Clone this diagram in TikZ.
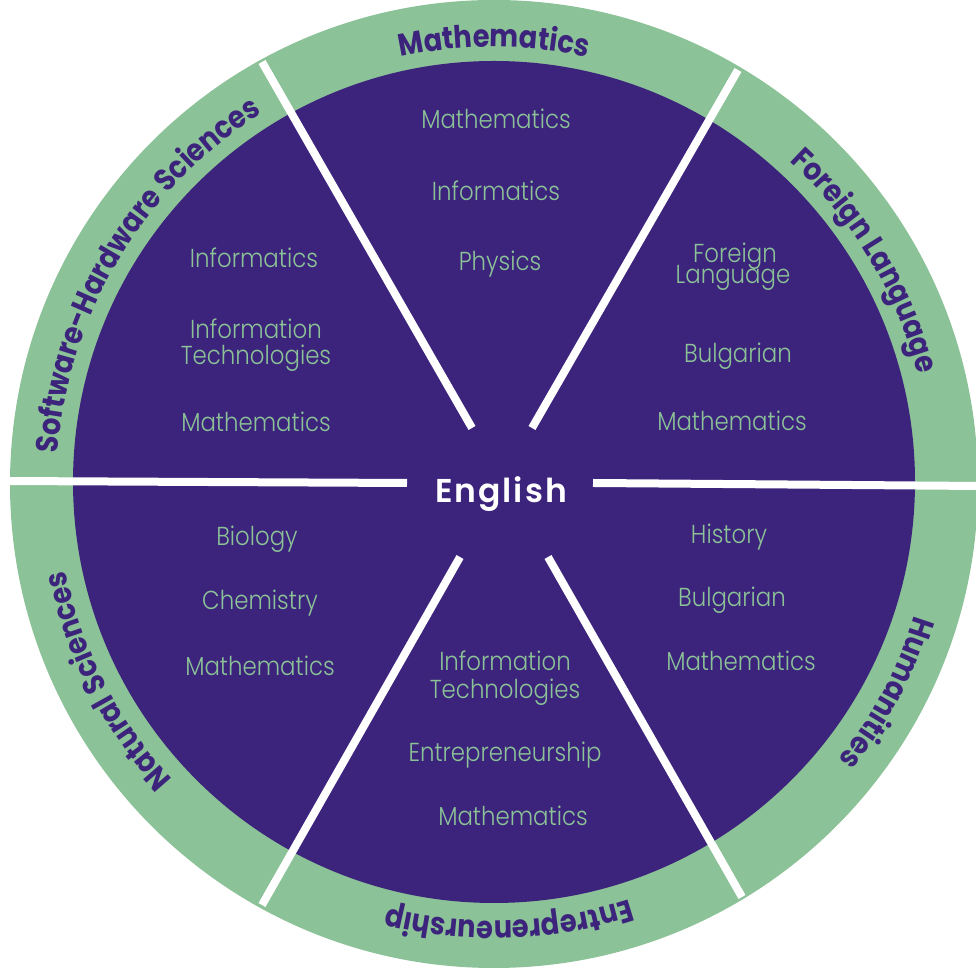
\documentclass[tikz,border=0pt]{standalone}
\usepackage{fontspec}
\usetikzlibrary{decorations.text}
\IfFontExistsTF{Poppins Light}{\newfontfamily\subjfont{Poppins Light}[FakeStretch=0.88]}{\newfontfamily\subjfont{Poppins}[FakeStretch=0.88]}
\IfFontExistsTF{Poppins Bold}{\newfontfamily\ringfont{Poppins Bold}[FakeStretch=0.88]}{\newfontfamily\ringfont{Poppins}[FakeBold=2,FakeStretch=0.88]}
\IfFontExistsTF{Poppins SemiBold}{\newfontfamily\engfont{Poppins SemiBold}[LetterSpace=6]}{\newfontfamily\engfont{Poppins}[LetterSpace=6,FakeBold=2]}
\definecolor{ringgreen}{HTML}{8BC297}
\definecolor{deeppurple}{HTML}{3C237C}
\begin{document}
\begin{tikzpicture}[x=1pt,y=1pt,
  subject/.style={font=\subjfont\fontsize{26}{26}\selectfont, text=ringgreen, anchor=base, inner sep=0pt},
  divider/.style={draw=white, line width=8pt},
  ringlabel/.style={decorate, decoration={text along path, text align=center, text color=deeppurple,
     text={|\ringfont\fontsize{31}{31}\selectfont|#1}}}]
\useasboundingbox (0,0) rectangle (976,968);
\coordinate (C) at (494,484);
\coordinate (Ci) at (494,486);
% rings
\fill[ringgreen] (C) circle[radius=484];
\fill[deeppurple] (Ci) circle[radius=421];
% dividers
\coordinate (l1a) at (6,487);   \coordinate (l1b) at (407,485);
\coordinate (r1a) at (593,485); \coordinate (r1b) at (980,482);
\coordinate (ula) at (262,906); \coordinate (ulb) at (472,540);
\coordinate (ura) at (738,898); \coordinate (urb) at (532,540);
\coordinate (lla) at (262,63);  \coordinate (llb) at (460,411);
\coordinate (lra) at (742,71);  \coordinate (lrb) at (548,411);
\draw[divider] (l1a) -- (l1b);
\draw[divider] (r1a) -- (r1b);
\draw[divider] (ula) -- (ulb);
\draw[divider] (ura) -- (urb);
\draw[divider] (lla) -- (llb);
\draw[divider] (lra) -- (lrb);
% ring labels
\path[ringlabel={Mathematics}] (C) ++(140:437) arc[start angle=140, end angle=40, radius=437];
\path[ringlabel={Foreign Language}] (C) ++(81:438) arc[start angle=81, end angle=-19, radius=438];
\path[ringlabel={Humanities}] (C) ++(22:441) arc[start angle=22, end angle=-78, radius=441];
\path[ringlabel={Entrepreneurship}] (C) ++(-38:437) arc[start angle=-38, end angle=-138, radius=437];
\path[ringlabel={Natural Sciences}] (C) ++(-103:437) arc[start angle=-103, end angle=-203, radius=437];
\path[ringlabel={Software-Hardware Sciences}] (C) ++(199:437) arc[start angle=199, end angle=99, radius=437];
% centre
\node[font=\engfont\fontsize{33}{33}\selectfont, text=white, anchor=base, inner sep=0pt] (english) at (501,465) {English};
% top sector
\node[subject] (t1) at (496,839) {Mathematics};
\node[subject] (t2) at (496,767) {Informatics};
\node[subject] (t3) at (500,697) {Physics};
% upper right
\node[subject] (ur1) at (735,705) {Foreign};
\node[subject] (ur1b) at (733,684) {Language};
\node[subject] (ur2) at (738,605) {Bulgarian};
\node[subject] (ur3) at (732,537) {Mathematics};
% upper left
\node[subject] (ul1) at (254,700) {Informatics};
\node[subject] (ul2) at (256,629) {Information};
\node[subject] (ul2b) at (256,603) {Technologies};
\node[subject] (ul3) at (256,536) {Mathematics};
% lower left
\node[subject] (ll1) at (257,422) {Biology};
\node[subject] (ll2) at (260,358) {Chemistry};
\node[subject] (ll3) at (260,292) {Mathematics};
% bottom
\node[subject] (b1) at (505,297) {Information};
\node[subject] (b1b) at (505,269) {Technologies};
\node[subject] (b2) at (505,206) {Entrepreneurship};
\node[subject] (b3) at (513,142) {Mathematics};
% lower right
\node[subject] (lr1) at (729,424) {History};
\node[subject] (lr2) at (732,361) {Bulgarian};
\node[subject] (lr3) at (741,297) {Mathematics};
\end{tikzpicture}
\end{document}
